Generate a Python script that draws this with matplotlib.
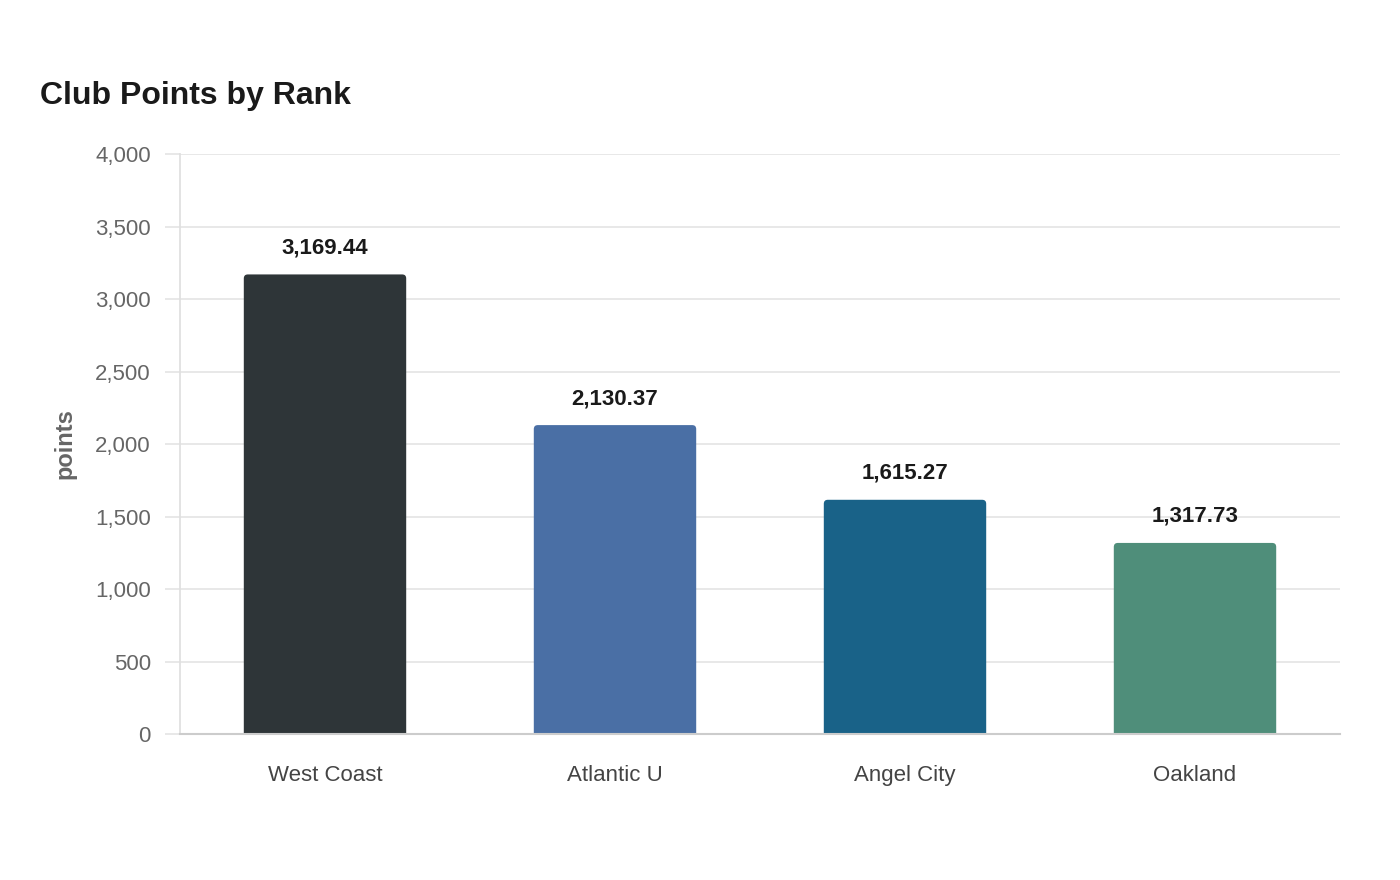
import matplotlib.pyplot as plt
from matplotlib.ticker import FuncFormatter
from matplotlib.patches import FancyBboxPatch

plt.rcParams['font.family'] = ['Liberation Sans', 'DejaVu Sans']

clubs = ['West Coast', 'Atlantic U', 'Angel City', 'Oakland']
points = [3169.44, 2130.37, 1615.27, 1317.73]
colors = ['#2e3538', '#4a6fa5', '#196288', '#4f8e7a']
y_ticks = [0, 500, 1000, 1500, 2000, 2500, 3000, 3500, 4000]

fig = plt.figure(figsize=(14, 8.8), dpi=100)
ax = fig.add_axes([180 / 1400, 146 / 880, 1160 / 1400, 580 / 880])

ax.set_xlim(-0.5, len(clubs) - 0.5)
ax.set_ylim(0, 4000)

x = range(len(clubs))
bars = ax.bar(x, points, width=0.56, color=colors, zorder=3)

# swap plain bars for ones with slightly rounded top corners
fig.canvas.draw()
bb = ax.get_window_extent()
px_x = bb.width / (ax.get_xlim()[1] - ax.get_xlim()[0])
px_y = bb.height / (ax.get_ylim()[1] - ax.get_ylim()[0])
aspect = px_x / px_y
r = 4 / px_x
for b in bars:
    bx, bw, bh = b.get_x(), b.get_width(), b.get_height()
    p = FancyBboxPatch((bx, -r * aspect * 2), bw, bh + r * aspect * 2,
                       boxstyle=f'round,pad=0,rounding_size={r}', mutation_aspect=aspect,
                       facecolor=b.get_facecolor(), edgecolor='none', zorder=3)
    ax.add_patch(p)
    b.remove()

# value labels above bars
for i, v in enumerate(points):
    ax.annotate(f'{v:,.2f}', xy=(i, v), xytext=(0, 11.5), textcoords='offset points',
                ha='center', va='bottom', fontsize=16, fontweight='bold', color='#1a1a1a')

ax.set_yticks(y_ticks)
ax.yaxis.set_major_formatter(FuncFormatter(lambda v, p: f'{int(v):,}'))
ax.set_xticks(list(x))
ax.set_xticklabels(clubs)

ax.grid(axis='y', color='#e6e6e6', linewidth=1.3, zorder=0)
ax.tick_params(axis='y', length=11, width=1.3, color='#e6e6e6', pad=10, labelsize=16, labelcolor='#666666')
ax.tick_params(axis='x', length=0, pad=22, labelsize=16, labelcolor='#444444')

for s in ['top', 'right']:
    ax.spines[s].set_visible(False)
ax.spines['left'].set_color('#e0e0e0')
ax.spines['left'].set_linewidth(1.3)
ax.spines['bottom'].set_color('#cccccc')
ax.spines['bottom'].set_linewidth(1.5)
ax.spines['bottom'].set_zorder(4)

ax.set_ylabel('points', fontsize=17, fontweight='bold', color='#666666')
ax.yaxis.set_label_coords(-104 / 1160, 0.5)

fig.text(40 / 1400, 1 - 96 / 880, 'Club Points by Rank', fontsize=23, fontweight='bold',
         color='#1a1a1a', ha='left', va='center')

fig.savefig('out.png', dpi=100, facecolor='white')
